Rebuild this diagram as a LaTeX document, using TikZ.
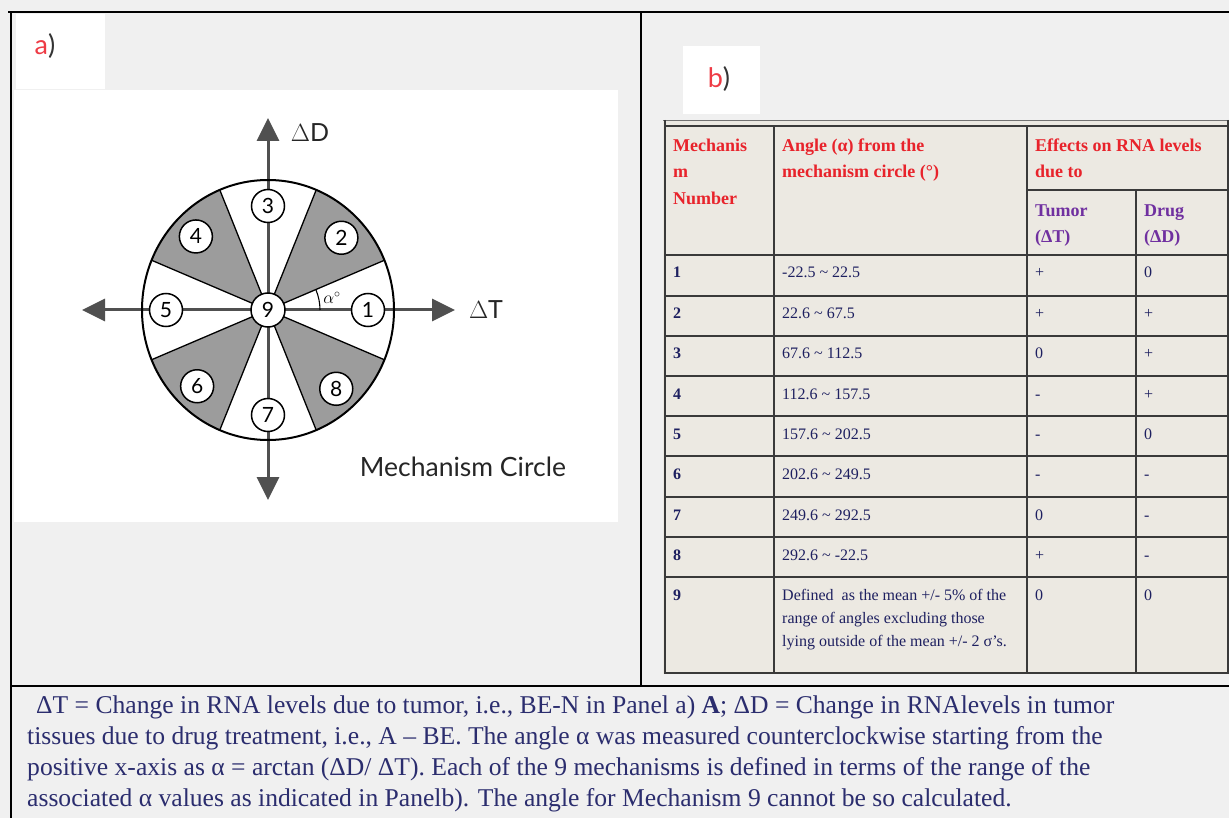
\documentclass[tikz,border=0pt]{standalone}
\usepackage{fontspec}
\setmainfont{Liberation Serif}
\newfontfamily\diagfont{Lato}
\usetikzlibrary{arrows.meta}
\definecolor{pagebg}{HTML}{F0F0F0}
\definecolor{beige}{HTML}{ECE9E2}
\definecolor{tablegray}{HTML}{3A3A3A}
\definecolor{hdrred}{HTML}{E8232B}
\definecolor{hdrpurple}{HTML}{7030A0}
\definecolor{bodynavy}{HTML}{1E2060}
\definecolor{capnavy}{HTML}{2B2D6E}
\definecolor{secgray}{HTML}{9C9C9C}
\definecolor{axisgray}{HTML}{505050}
\definecolor{labred}{HTML}{EE3B45}
\tikzset{
  frameline/.style={draw=black, line width=1.6pt},
  tline/.style={draw=tablegray, line width=1.6pt},
  hdr/.style={anchor=base west, inner sep=0pt, font=\fontsize{18}{20}\selectfont\bfseries, text=hdrred},
  subhdr/.style={hdr, text=hdrpurple},
  cell/.style={anchor=base west, inner sep=0pt, font=\fontsize{16}{18}\selectfont, text=bodynavy},
  numcell/.style={cell, font=\fontsize{16}{18}\selectfont\bfseries},
  capline/.style={anchor=base west, inner sep=0pt, font=\fontsize{25.6}{28}\selectfont, text=capnavy},
  mnum/.style={circle, draw=black, line width=1.5pt, fill=white, minimum size=33pt, inner sep=0pt, font=\diagfont\fontsize{21}{21}\selectfont},
  axis/.style={draw=axisgray, line width=3pt, -{Triangle[length=23pt, width=22pt]}},
  secline/.style={draw=black, line width=1.3pt},
  rim/.style={draw=black, line width=2pt},
  axlabel/.style={inner sep=0pt, font=\diagfont\fontsize{25}{25}\selectfont, text=black!85},
  panlabel/.style={inner sep=0pt, font=\diagfont\fontsize{27}{27}\selectfont}
}
\begin{document}
\begin{tikzpicture}[x=1pt,y=-1pt]
\useasboundingbox (0,0) rectangle (1229,818);
\fill[pagebg] (0,0) rectangle (1229,818);
% white boxes
\fill[white] (16,14) rectangle (105,89);
\fill[white] (14,90) rectangle (618,522);
\fill[white] (683,46) rectangle (760,114);
\node[panlabel] (la) at (45,46) {\textcolor{labred}{a}\textcolor{black!80})};
\node[panlabel] (lb) at (719,79) {\textcolor{labred}{b}\textcolor{black!80})};
% frame
\draw[frameline] (8,12) -- (1229,12);
\draw[frameline] (11,12) -- (11,818);
\draw[frameline] (641,12) -- (641,686);
\draw[frameline, line width=2.4pt] (11,686) -- (1229,686);

% ---------- mechanism circle ----------
\begin{scope}[shift={(268,310)}, y=1pt]
  \coordinate (c) at (0,0);
  \fill[white] (0,0) ellipse [x radius=126, y radius=130];
  \foreach \a in {22.5,112.5,202.5,292.5}
    \fill[secgray] (0,0) -- (\a:126 and 130) arc[start angle=\a, end angle=\a+45, x radius=126, y radius=130] -- cycle;
  \foreach \a in {22.5,67.5,112.5,157.5,202.5,247.5,292.5,337.5}
    \draw[secline] (c) -- (\a:126 and 130);
  \coordinate (tipD) at (0,192);
  \coordinate (tipS) at (0,-190);
  \coordinate (tipW) at (-186,0);
  \coordinate (tipT) at (187,0);
  \draw[axis] (c) -- (tipD);
  \draw[axis] (c) -- (tipS);
  \draw[axis] (c) -- (tipW);
  \draw[axis] (c) -- (tipT);
  \draw[rim] (0,0) ellipse [x radius=126, y radius=130];
  \draw[line width=1.1pt] (52,0) arc[start angle=0, end angle=22.5, radius=52];
  \node[inner sep=0pt, font=\fontsize{18}{18}\selectfont] (alpha) at (64,12) {$\alpha^{\circ}$};
  \node[mnum] (m1) at (0:100 and 104) {1};
  \node[mnum] (m2) at (44:102 and 104) {2};
  \node[mnum] (m3) at (90:102 and 104) {3};
  \node[mnum] (m4) at (135:102 and 104) {4};
  \node[mnum] (m5) at (180:102 and 104) {5};
  \node[mnum] (m6) at (226:102 and 106) {6};
  \node[mnum] (m7) at (270:102 and 105) {7};
  \node[mnum] (m8) at (312:102 and 106) {8};
  \node[mnum, minimum size=34pt] (m9) at (c) {9};
\end{scope}
\node[axlabel] (dD) at (310,133) {$\Delta$D};
\node[axlabel] (dT) at (486,310) {$\Delta$T};
\node[inner sep=0pt, font=\diagfont\fontsize{26.5}{26.5}\selectfont, text=black!85] (mc) at (463,467) {Mechanism Circle};

% ---------- table ----------
\fill[beige] (663,120) rectangle (1229,674);
\draw[draw=black!55, line width=0.8pt] (663,120) -- (1229,120);
\draw[tline] (665,126) -- (1228,126);
\draw[tline] (1027,190) -- (1228,190);
\foreach \yy in {255,296,336,376,416,456,497,537,577,673}
  \draw[tline] (665,\yy) -- (1228,\yy);
\draw[tline] (665,120) -- (665,674);
\draw[tline] (774,126) -- (774,673);
\draw[tline] (1027,126) -- (1027,673);
\draw[tline] (1136,190) -- (1136,673);
\draw[tline] (1228,120) -- (1228,674);

\node[hdr] (h1a) at (673,152) {Mechanis};
\node[hdr] (h1b) at (673,178) {m};
\node[hdr] (h1c) at (673,205) {Number};
\node[hdr] (h2a) at (782,152) {Angle (α) from the};
\node[hdr] (h2b) at (782,178) {mechanism circle (°)};
\node[hdr] (h3a) at (1035,152) {Effects on RNA levels};
\node[hdr] (h3b) at (1035,178) {due to};
\node[subhdr] (h4a) at (1035,217) {Tumor};
\node[subhdr] (h4b) at (1035,243) {(ΔT)};
\node[subhdr] (h5a) at (1144,217) {Drug};
\node[subhdr] (h5b) at (1144,243) {(ΔD)};

\foreach \n/\yy/\ang/\t/\d in {1/255/{-22.5 \textasciitilde\ 22.5}/+/0, 2/296/{22.6 \textasciitilde\ 67.5}/+/+, 3/336/{67.6 \textasciitilde\ 112.5}/0/+, 4/376/{112.6 \textasciitilde\ 157.5}/-/+, 5/416/{157.6 \textasciitilde\ 202.5}/-/0, 6/456/{202.6 \textasciitilde\ 249.5}/-/-, 7/497/{249.6 \textasciitilde\ 292.5}/0/-, 8/537/{292.6 \textasciitilde\ -22.5}/+/-, 9/577/{Defined\ \ as the mean +/- 5\% of the}/0/0}{
  \node[numcell] (r\n a) at (673,\yy+23) {\n};
  \node[cell] (r\n b) at (782,\yy+23) {\ang};
  \node[cell] (r\n c) at (1035,\yy+23) {\t};
  \node[cell] (r\n d) at (1144,\yy+23) {\d};
}
\node[cell] (r9b2) at (782,623) {range of angles excluding those};
\node[cell] (r9b3) at (782,646) {lying outside of the mean +/- 2 σ’s.};

% ---------- caption ----------
\node[capline] (c1) at (36,713) {ΔT = Change in RNA levels due to tumor, i.e., BE-N in Panel a) \textbf{A}; ΔD = Change in RNAlevels in tumor};
\node[capline] (c2) at (27,744) {tissues due to drug treatment, i.e., A – BE. The angle α was measured counterclockwise starting from the};
\node[capline] (c3) at (27,775) {positive x-axis as α = arctan (ΔD/ ΔT). Each of the 9 mechanisms is defined in terms of the range of the};
\node[capline] (c4) at (27,806) {associated α values as indicated in Panelb). The angle for Mechanism 9 cannot be so calculated.};
\end{tikzpicture}
\end{document}
